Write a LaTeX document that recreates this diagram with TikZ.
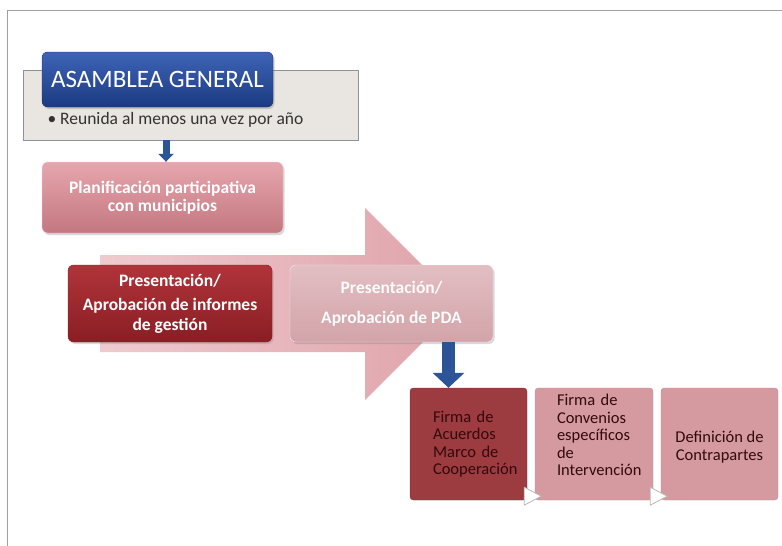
\documentclass[tikz,border=0pt]{standalone}
\usepackage{fontspec}
\setmainfont{Carlito}
\usepackage{tikz}
\usetikzlibrary{arrows.meta, positioning, calc, shadows}
\definecolor{asamblea_top}{HTML}{3E64B6}
\definecolor{asamblea_bot}{HTML}{1C3A82}
\definecolor{asamblea_edge}{HTML}{1A3270}
\definecolor{reunion_fill}{HTML}{E9E6E1}
\definecolor{reunion_edge}{HTML}{8E939B}
\definecolor{plan_top}{HTML}{E6A6AD}
\definecolor{plan_bot}{HTML}{C47780}
\definecolor{flecha_left}{HTML}{EECBCF}
\definecolor{flecha_right}{HTML}{DFA2AA}
\definecolor{informe_top}{HTML}{B0343A}
\definecolor{informe_bot}{HTML}{891E24}
\definecolor{poa_top}{HTML}{E2BEC2}
\definecolor{poa_bot}{HTML}{D2A4A9}
\definecolor{acuerdo_fill}{HTML}{9C3B40}
\definecolor{convenio_fill}{HTML}{D49AA0}
\definecolor{texto_oscuro}{HTML}{33090B}
\definecolor{flecha_azul}{HTML}{2C5597}
\tikzset{
  frame_line/.style={draw=gray!75, line width=1pt},
  title_box/.style={rectangle, draw=asamblea_edge, top color=asamblea_top, bottom color=asamblea_bot, rounded corners=2mm, minimum width=231pt, minimum height=55pt, text=white, font=\fontsize{25}{29}\selectfont, drop shadow={shadow xshift=1.5pt, shadow yshift=-2pt, opacity=0.35}},
  bullet_box/.style={rectangle, draw=reunion_edge, fill=reunion_fill, line width=1pt, minimum width=335pt, minimum height=70pt},
  bullet_text/.style={text=black!80, font=\fontsize{17.5}{20}\selectfont},
  plan_block/.style={rectangle, draw=white!60!plan_top, top color=plan_top, bottom color=plan_bot, rounded corners=2mm, minimum width=241pt, minimum height=71pt, align=center, text=white, font=\bfseries\fontsize{17.5}{18}\selectfont, drop shadow={shadow xshift=1.5pt, shadow yshift=-2pt, opacity=0.3}},
  big_arrow/.style={left color=flecha_left, right color=flecha_right, draw=none},
  gestion_block/.style={rectangle, rounded corners=2mm, minimum width=204pt, minimum height=77pt, align=center, font=\bfseries\fontsize{17.5}{19.5}\selectfont, drop shadow={shadow xshift=1.5pt, shadow yshift=-2pt, opacity=0.3}},
  step_block/.style={rectangle, rounded corners=1.2mm, minimum width=117pt, minimum height=112pt, align=left, text=texto_oscuro, font=\fontsize{16.5}{17.5}\selectfont},
  chevron/.style={fill=white, draw=gray!55, line width=0.8pt, line join=round},
  blue_arrow/.style={draw=flecha_azul}
}

\begin{document}
\begin{tikzpicture}[x=1pt, y=-1pt]
  \useasboundingbox (0,0) rectangle (782,546);

  % --- 1. Frame ---
  \draw[frame_line] (7,546) -- (7,10) -- (782,10);

  % --- 2. Asamblea General ---
  \node[bullet_box] (reunion_box) at (190.5,105) {};
  \node[title_box] (asamblea) at (157.5,79.5) {ASAMBLEA GENERAL};
  \node[bullet_text, anchor=west] (reunion_text) at (44,120) {\textbullet\ Reunida al menos una vez por año};

  % --- 3. Planificacion ---
  \node[plan_block] (planificacion) at (162.5,197.5) {Planificación participativa\\con municipios};

  % --- 4. Big arrow with the two gestion blocks ---
  \path[big_arrow] (100,255) -- (365,255) -- (365,208) -- (461,304)
    -- (365,400) -- (365,352) -- (100,352) -- cycle;

  \node[gestion_block, draw=informe_bot, top color=informe_top, bottom color=informe_bot, text=white] (informes) at (170,303.5)
    {Presentación/\\[5pt]Aprobación de informes\\de gestión};
  \node[gestion_block, minimum width=203pt, draw=white!70!poa_top, top color=poa_top, bottom color=poa_bot, text=white!94!poa_top,
    font=\bfseries\fontsize{17.5}{20}\selectfont] (pda) at (391.5,303.5)
    {Presentación/\\[10pt]Aprobación de PDA};

  % --- 5. Bottom process ---
  % narrow text width keeps the left edge of the text where it is in the slide
  \node[step_block, fill=acuerdo_fill, draw=acuerdo_fill!85!black, text width=71pt] (firma_acuerdos) at (468.5,444)
    {Firma de\\Acuerdos\\Marco de\\Cooperación};
  \node[step_block, fill=convenio_fill, draw=convenio_fill!90!black, minimum width=118pt, text width=74pt] (firma_convenios) at (594,444)
    {Firma de\\Convenios\\específicos\\de\\Intervención\\\mbox{}};
  \node[step_block, fill=convenio_fill, draw=convenio_fill!90!black, align=center] (contrapartes) at (719.5,444)
    {\mbox{}\\Definición de\\Contrapartes};

  % small chevrons between the steps
  \foreach \stp in {firma_acuerdos, firma_convenios} {
    \draw[chevron] ($(\stp.south east)+(-3,-13)$) -- ($(\stp.south east)+(14,-4)$)
      -- ($(\stp.south east)+(-3,5)$) -- cycle;
  }

  % --- 6. Blue arrows ---
  \coordinate (reunion_out) at (166,140);
  \coordinate (pda_out) at (448.5,342);
  \draw[blue_arrow, line width=7pt, -{Triangle[width=15pt, length=8pt]}] (reunion_out) -- (reunion_out |- planificacion.north);
  \draw[blue_arrow, line width=13pt, -{Triangle[width=31pt, length=15pt]}] (pda_out) -- (pda_out |- firma_acuerdos.north);
\end{tikzpicture}
\end{document}
